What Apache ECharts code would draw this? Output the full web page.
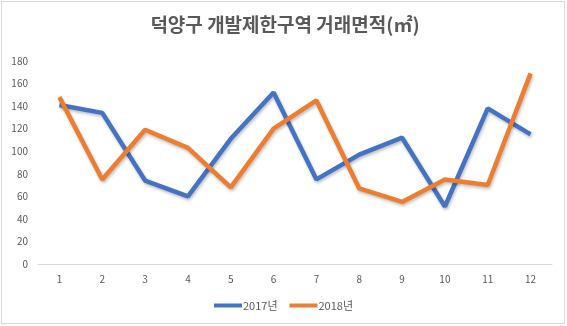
<!DOCTYPE html>
<html>
<head>
<meta charset="utf-8">
<script src="https://cdn.jsdelivr.net/npm/echarts@6/dist/echarts.min.js"></script>
<style>
  html, body { margin: 0; padding: 0; background: #fff; }
  #frame { position: absolute; left: 1px; top: 1px; width: 562px; height: 321px; border: 1px solid #d9d9d9; }
  #chart { position: absolute; left: 0; top: 0; width: 567px; height: 326px; }
</style>
</head>
<body>
<div id="frame"></div>
<div id="chart"></div>
<script>
// 덕양구 개발제한구역 월별 거래면적
const months = ['1', '2', '3', '4', '5', '6', '7', '8', '9', '10', '11', '12'];
const area2017 = [141, 134, 74, 60, 111, 152, 75, 97, 112, 51, 138, 115];
const area2018 = [148, 75, 119, 103, 68, 120, 145, 67, 55, 75, 70, 169];
const seriesNames = ['2017년', '2018년'];
const yTicks = [0, 20, 40, 60, 80, 100, 120, 140, 160, 180];

const font = '"Malgun Gothic", "Noto Sans CJK KR", sans-serif';
const colors = ['#4472C4', '#ED7D31'];

const chart = echarts.init(document.getElementById('chart'), null, { renderer: 'canvas' });

function lineSeries(name, data, color) {
  return {
    name: name,
    type: 'line',
    data: data,
    symbol: 'none',
    smooth: false,
    lineStyle: {
      width: 4.5,
      color: color,
      shadowColor: 'rgba(0,0,0,0.25)',
      shadowBlur: 3,
      shadowOffsetX: 1,
      shadowOffsetY: 2
    },
    itemStyle: { color: color }
  };
}

chart.setOption({
  animation: false,
  title: {
    text: '덕양구 개발제한구역 거래면적(㎡)',
    left: 280,
    textAlign: 'center',
    top: 10,
    textStyle: { fontFamily: font, fontSize: 19, fontWeight: 'bold', color: '#595959' }
  },
  grid: { left: 38, right: 15, top: 61, bottom: 62, containLabel: false },
  legend: {
    bottom: 10,
    left: 'center',
    itemWidth: 28,
    itemHeight: 4,
    itemGap: 12,
    icon: 'rect',
    textStyle: { fontFamily: font, fontSize: 11, color: '#595959', padding: [0, 0, 0, -4] },
    data: seriesNames
  },
  xAxis: {
    type: 'category',
    data: months,
    boundaryGap: true,
    axisLine: { lineStyle: { color: '#d9d9d9', width: 1 } },
    axisTick: { show: false },
    axisLabel: { fontFamily: font, fontSize: 10, color: '#595959', margin: 10 }
  },
  yAxis: {
    type: 'value',
    min: yTicks[0],
    max: yTicks[yTicks.length - 1],
    interval: 20,
    splitLine: { show: false },
    axisLine: { show: false },
    axisTick: { show: false },
    axisLabel: { fontFamily: font, fontSize: 10, color: '#595959', margin: 10 }
  },
  series: [
    lineSeries(seriesNames[0], area2017, colors[0]),
    lineSeries(seriesNames[1], area2018, colors[1])
  ]
});
</script>
</body>
</html>
